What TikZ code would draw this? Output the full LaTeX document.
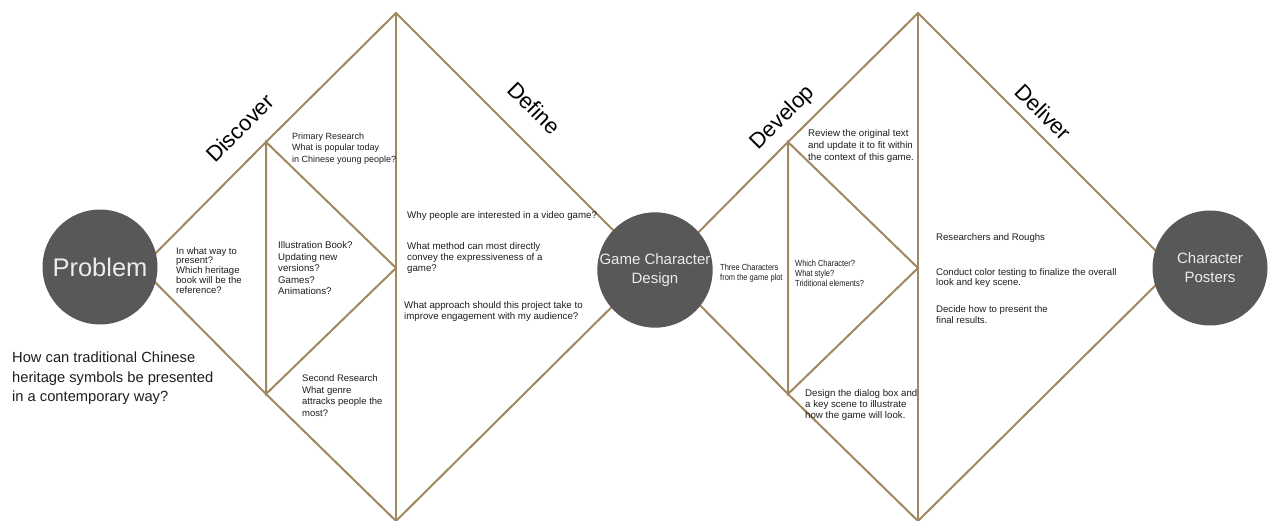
\documentclass[tikz,border=0pt]{standalone}
\usepackage{fontspec}
\setmainfont{Liberation Sans}
\newfontfamily\narrowfont[FakeStretch=0.85]{Liberation Sans}
\usetikzlibrary{calc}
\definecolor{linec}{RGB}{160,136,96}
\definecolor{circ}{RGB}{88,88,88}
\definecolor{circtext}{RGB}{236,236,236}
\definecolor{txt}{RGB}{30,30,30}
\begin{document}
\begin{tikzpicture}[x=1pt,y=-1pt,
  dline/.style={draw=linec,line width=2pt,line join=miter},
  bubble/.style={circle,fill=circ,minimum size=115pt,inner sep=0pt,text=circtext,align=center},
  phase/.style={font=\fontsize{22}{24}\selectfont,text=black,inner sep=0pt},
  note/.style={anchor=north west,inner sep=0pt,align=left,text=txt},
]
\useasboundingbox[fill=white] (0,0) rectangle (1278,521);
% diamond 1
\coordinate (L1) at (141,268);
\coordinate (T1) at (396,13);
\coordinate (R1) at (651,268);
\coordinate (B1) at (396,521);
\coordinate (M1) at (396,268);
\coordinate (IA1) at (266,142);
\coordinate (IB1) at (266,394);
% diamond 2
\coordinate (L2) at (663,268);
\coordinate (T2) at (918,13);
\coordinate (R2) at (1173,268);
\coordinate (B2) at (918,521);
\coordinate (M2) at (918,268);
\coordinate (IA2) at (788,142);
\coordinate (IB2) at (788,394);

\draw[dline] (L1) -- (IA1) -- (T1) -- (R1) -- (B1) -- (IB1) -- cycle;
\draw[dline] (T1) -- (M1) -- (B1);
\draw[dline] (IA1) -- (M1) -- (IB1) -- cycle;
\draw[dline] (L2) -- (IA2) -- (T2) -- (R2) -- (B2) -- (IB2) -- cycle;
\draw[dline] (T2) -- (M2) -- (B2);
\draw[dline] (IA2) -- (M2) -- (IB2) -- cycle;

% circles
\node[bubble,font=\fontsize{25.5}{28}\selectfont] (prob) at (100,267) {Problem};
\node[bubble,font=\fontsize{15}{19}\selectfont] (gcd) at (655,270) {Game Character\\Design};
\node[bubble,font=\fontsize{15}{19}\selectfont] (cp) at (1210,268) {Character\\Posters};

% phase labels
\node[phase,rotate=45] (discover) at (240,128) {Discover};
\node[phase,rotate=-45] (define) at (534,108) {Define};
\node[phase,rotate=45] (develop) at (783,118) {Develop};
\node[phase,rotate=-45] (deliver) at (1043,112) {Deliver};

% main question
\node[note,font=\fontsize{14.7}{19.5}\selectfont] (question) at (12,352) {How can traditional Chinese\\heritage symbols be presented\\in a contemporary way?};

% discover notes
\node[note,font=\fontsize{9}{11.7}\selectfont] (primary) at (292,132.5) {Primary Research\\What is popular today\\in Chinese young people?};
\node[note,font=\fontsize{9.5}{9.9}\selectfont] (inwhat) at (176,247) {In what way to\\present?\\Which heritage\\book will be the\\reference?};
\node[note,font=\fontsize{9.7}{11.5}\selectfont] (illus) at (278,241.5) {Illustration Book?\\Updating new\\versions?\\Games?\\Animations?};
\node[note,font=\fontsize{9.5}{11.7}\selectfont] (second) at (302,374.5) {Second Research\\What genre\\attracks people the\\most?};

% define notes
\node[note,font=\fontsize{9.7}{11.3}\selectfont] (why) at (407,211.5) {Why people are interested in a video game?};
\node[note,font=\fontsize{9.7}{11.3}\selectfont] (method) at (407,242) {What method can most directly\\convey the expressiveness of a\\game?};
\node[note,font=\fontsize{9.7}{11.3}\selectfont] (approach) at (404,301) {What approach should this project take to\\improve engagement with my audience?};

% develop notes
\node[note,font=\narrowfont\fontsize{8.8}{10}\selectfont] (three) at (720,263.5) {Three Characters\\from the game plot};
\node[note,font=\narrowfont\fontsize{8.8}{10}\selectfont] (which) at (795,259.5) {Which Character?\\What style?\\Triditional elements?};
\node[note,font=\fontsize{9.7}{11.7}\selectfont] (review) at (808,129.5) {Review the original text\\and update it to fit within\\the context of this game.};
\node[note,font=\fontsize{9.7}{11}\selectfont] (dialog) at (805,389) {Design the dialog box and\\a key scene to illustrate\\how the game will look.};

% deliver notes
\node[note,font=\fontsize{9.6}{11}\selectfont] (rough) at (936,233.5) {Researchers and Roughs};
\node[note,font=\fontsize{9.6}{10.7}\selectfont] (conduct) at (936,268) {Conduct color testing to finalize the overall\\look and key scene.};
\node[note,font=\fontsize{9.6}{11}\selectfont] (decide) at (936,305.5) {Decide how to present the\\final results.};
\end{tikzpicture}
\end{document}
